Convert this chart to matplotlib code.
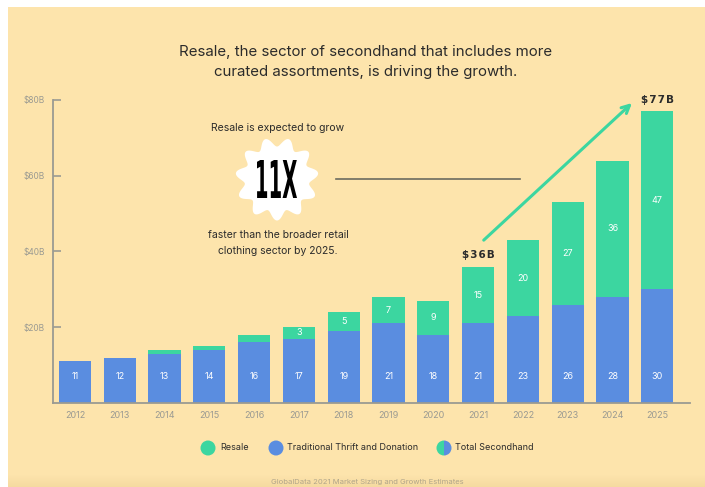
import numpy as np
import matplotlib
matplotlib.use('Agg')
import matplotlib.pyplot as plt
from matplotlib.patches import Rectangle, Polygon, Circle, Wedge, PathPatch
from matplotlib.lines import Line2D
from matplotlib.textpath import TextPath
from matplotlib.font_manager import FontProperties
from matplotlib.transforms import Affine2D

plt.rcParams['font.family'] = ['Inter', 'DejaVu Sans']

years = [str(y) for y in range(2012, 2026)]
thrift = [11, 12, 13, 14, 16, 17, 19, 21, 18, 21, 23, 26, 28, 30]
resale = [0, 0, 1, 1, 2, 3, 5, 7, 9, 15, 20, 27, 36, 47]
totals_marked = {9: '$36B', 13: '$77B'}
yticks = [20, 40, 60, 80]
ytick_labels = ['$20B', '$40B', '$60B', '$80B']

BG = '#FDE4AC'
GREEN = '#3CD6A0'
BLUE = '#5A8DE0'
DARK = '#2b2b2b'
GREY = '#9a9a92'

W, H = 705, 487
fig = plt.figure(figsize=(W / 100, H / 100), dpi=100)
fig.patch.set_facecolor('white')


def fx(px):
    return px / W


def fy(py):
    return 1 - py / H


# yellow card
fig.patches.append(Rectangle((fx(8), 0), 1 - fx(8), fy(7), transform=fig.transFigure,
                             facecolor=BG, edgecolor='none', zorder=-10))
# slight darker band at bottom
for i in range(12):
    fig.patches.append(Rectangle((fx(8), fy(487 - i)), 1 - fx(8), 1 / H, transform=fig.transFigure,
                                 facecolor='#e8c98a', alpha=0.35 * (1 - i / 12), edgecolor='none', zorder=-9))

ax = fig.add_axes([fx(53), fy(403), fx(690) - fx(53), fy(100) - fy(403)])
ax.set_facecolor('none')
x = np.arange(len(years))
ax.bar(x, thrift, width=0.72, color=BLUE, zorder=2)
ax.bar(x, resale, width=0.72, bottom=thrift, color=GREEN, zorder=2)

for i in range(len(years)):
    ax.text(x[i], 6.9, str(thrift[i]), ha='center', va='center', color='white', fontsize=6.5)
    if resale[i] >= 3:
        ax.text(x[i], thrift[i] + resale[i] / 2, str(resale[i]), ha='center', va='center',
                color='white', fontsize=6.5)
for i, lab in totals_marked.items():
    ax.text(x[i], thrift[i] + resale[i] + 3, '\u200a'.join(lab), ha='center', va='center',
            color=DARK, fontsize=7.5, fontweight='bold', clip_on=False, family=['DejaVu Sans'])

ax.set_xlim(-0.49, 13.73)
ax.set_ylim(0, 80)
ax.set_xticks(x)
ax.set_xticklabels(years, fontsize=6.5, color=GREY)
ax.set_yticks(yticks)
ax.set_yticklabels(ytick_labels, fontsize=6, color=GREY)
ax.tick_params(axis='x', length=0, pad=6)
ax.tick_params(axis='y', direction='in', length=6, width=1.2, color=GREY, pad=6)
for s in ['top', 'right']:
    ax.spines[s].set_visible(False)
for s in ['left', 'bottom']:
    ax.spines[s].set_color(GREY)
    ax.spines[s].set_linewidth(1.3)

# growth arrow
ax.annotate('', xy=(12.48, 79.7), xytext=(9.08, 42.5),
            arrowprops=dict(arrowstyle='->', color=GREEN, lw=2.2, mutation_scale=14),
            annotation_clip=False, zorder=3)

# title
fig.text(fx(366), fy(62), 'Resale, the sector of secondhand that includes more\n'
         'curated assortments, is driving the growth.', ha='center', va='center',
         fontsize=10.8, color=DARK, linespacing=1.55)

# starburst callout
cx, cy, R = 277, 179, 37
th = np.linspace(0, 2 * np.pi, 600)
r = R + 4.5 * np.cos(11 * th + np.pi / 2)
pts = [(fx(cx + rr * np.cos(t)), fy(cy + rr * np.sin(t))) for rr, t in zip(r, th)]
fig.patches.append(Polygon(pts, closed=True, transform=fig.transFigure, facecolor='white',
                           edgecolor='none', zorder=1))

# condensed "11X"
tp = TextPath((0, 0), '11X', size=40, prop=FontProperties(family='DejaVu Sans', weight='bold'))
ext = tp.get_extents()
tw, th_ = 40, 38
tr = (Affine2D().translate(-ext.x0 - ext.width / 2, -ext.y0 - ext.height / 2)
      .scale(tw / ext.width, th_ / ext.height).translate(cx, H - cy))
fig.patches.append(PathPatch(tr.transform_path(tp), transform=None, facecolor='black',
                             edgecolor='none', zorder=2))

fig.text(fx(278), fy(128), 'Resale is expected to grow', ha='center', va='center',
         fontsize=7.5, color=DARK)
fig.text(fx(278), fy(243), 'faster than the broader retail\nclothing sector by 2025.',
         ha='center', va='center', fontsize=7.5, color=DARK, linespacing=1.7)
fig.lines.append(Line2D([fx(336), fx(520)], [fy(179), fy(179)], transform=fig.transFigure,
                        color='#6b6b60', lw=1.2))

# legend
ly = fy(448)
rad = 7.5
fig.patches.append(Circle((208, H - 448), rad, transform=None, facecolor=GREEN, edgecolor='none'))
fig.text(fx(220), ly, 'Resale', ha='left', va='center', fontsize=6.5, color=DARK)
fig.patches.append(Circle((276, H - 448), rad, transform=None, facecolor=BLUE, edgecolor='none'))
fig.text(fx(287), ly, 'Traditional Thrift and Donation', ha='left', va='center', fontsize=6.5, color=DARK)
fig.patches.append(Wedge((444, H - 448), rad, 90, 270, transform=None, facecolor=GREEN, edgecolor='none'))
fig.patches.append(Wedge((444, H - 448), rad, 270, 90, transform=None, facecolor=BLUE, edgecolor='none'))
fig.text(fx(455), ly, 'Total Secondhand', ha='left', va='center', fontsize=6.5, color=DARK)

fig.text(fx(367), fy(482), 'GlobalData 2021 Market Sizing and Growth Estimates', ha='center',
         va='center', fontsize=5.5, color='#b0a58a')

fig.savefig('out.png', dpi=100, facecolor=fig.get_facecolor())
